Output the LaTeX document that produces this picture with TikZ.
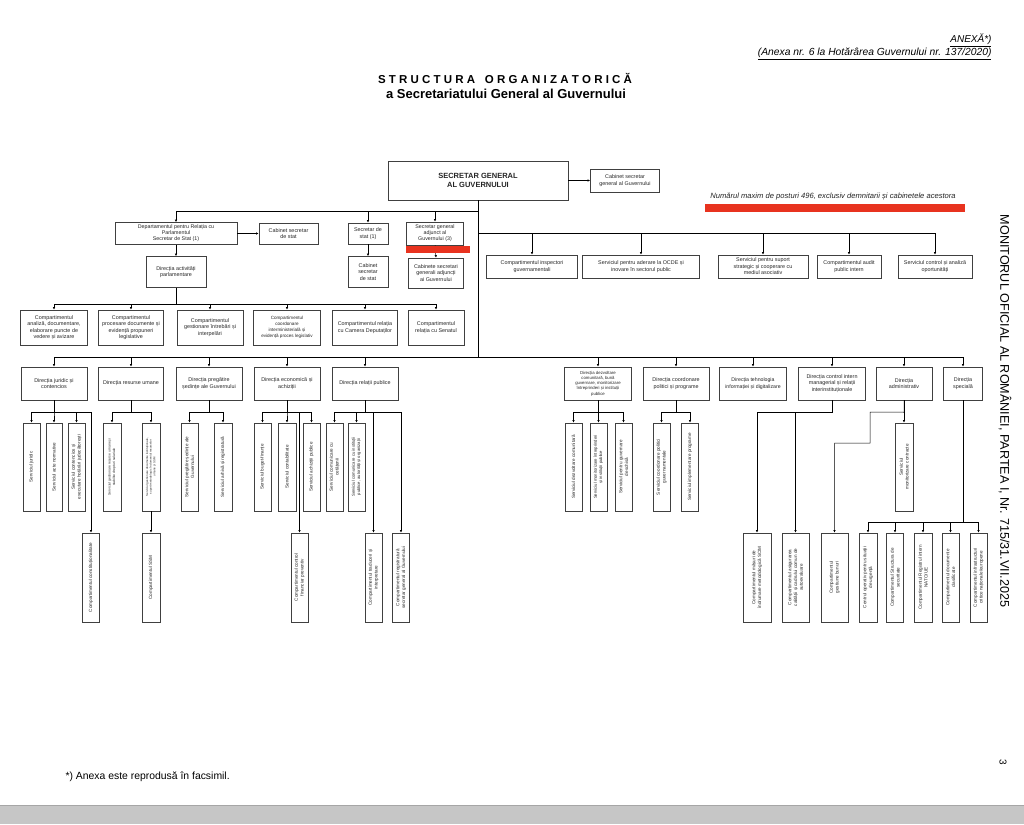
\documentclass[tikz,border=0pt]{standalone}
\usepackage{fontspec}
\setmainfont{Liberation Sans}
\usetikzlibrary{arrows.meta}
\newcommand\fsz[2]{\fontsize{#1}{#2}\selectfont}
\definecolor{redbar}{HTML}{E8331F}
\tikzset{
  box/.style={draw=black!75, line width=0.5pt, align=center, inner sep=0.5pt, font=\fsz{5.4}{6.5}, text=black!85},
  vb/.style={box, rotate=90, font=\fsz{4.6}{5.8}},
  wh/.style 2 args={minimum width=#1pt, minimum height=#2pt},
  arr/.style={-{Latex[length=2.6pt,width=2.4pt]}, line width=0.5pt},
  ln/.style={line width=0.5pt},
}
\begin{document}
\begin{tikzpicture}[x=1pt,y=-1pt]
\useasboundingbox (0,0) rectangle (1024,824);
\fill[white] (0,0) rectangle (1024,824);
\fill[gray!45] (0,805) rectangle (1024,824);
\draw[gray!70, line width=1pt] (0,805) -- (1024,805);

% header
\node[anchor=east, font=\fsz{10}{11}\itshape] (anx) at (995,40) {\underline{ANEXĂ*)}};
\node[anchor=east, font=\fsz{10.3}{11}\itshape] (anx2) at (995,54) {\underline{(Anexa nr. 6 la Hotărârea Guvernului nr. 137/2020)}};
\node[font=\fsz{11.5}{13}\bfseries] (t1) at (505,78) {\makebox[254pt][s]{S\hfill T\hfill R\hfill U\hfill C\hfill T\hfill U\hfill R\hfill A\hfill\hfill\hfill O\hfill R\hfill G\hfill A\hfill N\hfill I\hfill Z\hfill A\hfill T\hfill O\hfill R\hfill I\hfill C\hfill Ă}};
\node[font=\fsz{13}{15}\bfseries] (t2) at (506,94) {a Secretariatului General al Guvernului};
\node[rotate=-90, font=\fsz{12.6}{14}] (mo) at (1005,411) {MONITORUL OFICIAL AL ROMÂNIEI, PARTEA I, Nr. 715/31.VII.2025};
\node[rotate=-90, font=\fsz{10}{11}] (pg) at (1003,762) {3};
\node[anchor=west, font=\fsz{10.4}{12}] (fn) at (62,777) {*) Anexa este reprodusă în facsimil.};

% top
\node[box, wh={180}{39}, font=\fsz{7.5}{9}\bfseries] (sg) at (478,180.5) {SECRETAR GENERAL\\AL GUVERNULUI};
\node[box, wh={69}{23}] (csg) at (625,180.5) {Cabinet secretar\\general al Guvernului};
\draw[arr] (sg.east) -- (csg.west);
\node[font=\fsz{7.6}{9}\itshape, text=black!85] (note) at (833,197) {Numărul maxim de posturi 496, exclusiv demnitarii și cabinetele acestora};
\fill[redbar] (705,204) rectangle (965,212);

\coordinate (hl) at (478,211);
\coordinate (hr) at (478,233);
\coordinate (hub) at (478,357);
\draw[ln] (sg.south) -- (hub);

% left branch
\node[box, wh={122}{22}, font=\fsz{5.3}{5.9}] (dept) at (176,233.5) {Departamentul pentru Relația cu\\Parlamentul\\Secretar de Stat (1)};
\node[box, wh={59}{21}] (css1) at (288.5,233.5) {Cabinet secretar\\de stat};
\node[box, wh={40}{21}] (ss) at (368,233.5) {Secretar de\\stat (1)};
\node[box, wh={57}{23}, font=\fsz{5.3}{6.1}] (sga) at (435,233.5) {Secretar general\\adjunct al\\Guvernului (3)};
\node[box, wh={40}{31}] (css2) at (368,272) {Cabinet\\secretar\\de stat};
\node[box, wh={55}{30}] (csga) at (436,273) {Cabinete secretari\\generali adjuncți\\ai Guvernului};
\node[box, wh={60}{31}] (dap) at (176,272) {Direcția activități\\parlamentare};
\draw[arr] (hl) -| (dept.north);
\draw[arr] (hl) -| (ss.north);
\draw[arr] (hl) -| (sga.north);
\draw[arr] (dept.east) -- (css1.west);
\draw[arr] (ss.south) -- (css2.north);
\draw[arr] (sga.south) -- (csga.north);
\draw[arr] (dept.south) -- (dap.north);
\fill[redbar] (406,246) rectangle (470,253);

% compartments
\coordinate (cb) at (176,304);
\draw[ln] (dap.south) -- (cb);
\node[box, wh={67}{35}] (c1) at (54,327.5) {Compartimentul\\analiză, documentare,\\elaborare puncte de\\vedere și avizare};
\node[box, wh={65}{35}] (c2) at (131,327.5) {Compartimentul\\procesare documente și\\evidență propuneri\\legislative};
\node[box, wh={66}{35}] (c3) at (210,327.5) {Compartimentul\\gestionare întrebări și\\interpelări};
\node[box, wh={67}{35}, font=\fsz{4.6}{5.8}] (c4) at (287,327.5) {Compartimentul\\coordonare\\interministerială și\\evidență proces legislativ};
\node[box, wh={65}{35}] (c5) at (365,327.5) {Compartimentul relația\\cu Camera Deputaților};
\node[box, wh={56}{35}] (c6) at (436,327.5) {Compartimentul\\relația cu Senatul};
\foreach \n in {c1,c2,c3,c4,c5,c6} \draw[arr] (cb) -| (\n.north);

% right branch
\node[box, wh={91}{23}] (r1) at (532,266.5) {Compartimentul inspectori\\guvernamentali};
\node[box, wh={117}{23}] (r2) at (641,266.5) {Serviciul pentru aderare la OCDE și\\inovare în sectorul public};
\node[box, wh={90}{23}] (r3) at (763,266.5) {Serviciul pentru suport\\strategic și cooperare cu\\mediul asociativ};
\node[box, wh={64}{23}] (r4) at (849,266.5) {Compartimentul audit\\public intern};
\node[box, wh={74}{23}] (r5) at (935,266.5) {Serviciul control și analiză\\oportunități};
\foreach \n in {r1,r2,r3,r4,r5} \draw[arr] (hr) -| (\n.north);

% directions
\node[box, wh={66}{33}] (dj) at (54,383.5) {Direcția juridic și\\contencios};
\node[box, wh={65}{33}] (dru) at (131,383.5) {Direcția resurse umane};
\node[box, wh={66}{33}] (dps) at (209,383.5) {Direcția pregătire\\ședințe ale Guvernului};
\node[box, wh={66}{33}] (de) at (287,383.5) {Direcția economică și\\achiziții};
\node[box, wh={66}{33}] (drp) at (365,383.5) {Direcția relații publice};
\node[box, wh={67}{33}, font=\fsz{4.3}{5.3}] (ddc) at (598,383.5) {Direcția dezvoltare\\comunitară, bună\\guvernare, monitorizare\\întreprinderi și instituții\\publice};
\node[box, wh={66}{33}] (dcp) at (676,383.5) {Direcția coordonare\\politici și programe};
\node[box, wh={67}{33}, font=\fsz{5.2}{6.4}] (dti) at (753,383.5) {Direcția tehnologia\\informației și digitalizare};
\node[box, wh={67}{33}] (dci) at (832,383.5) {Direcția control intern\\managerial și relații\\interinstituționale};
\node[box, wh={56}{33}] (dadm) at (904,383.5) {Direcția\\administrativ};
\node[box, wh={39}{33}] (dsp) at (963,383.5) {Direcția\\specială};
\foreach \n in {dj,dru,dps,de,drp,ddc,dcp,dti,dci,dadm,dsp} \draw[arr] (hub) -| (\n.north);

% vertical boxes - juridic
\node[vb, wh={88}{17}] (sj) at (31.5,467) {Serviciul juridic};
\node[vb, wh={88}{16}] (san) at (54,467) {Serviciul acte normative};
\node[vb, wh={88}{17}] (sc) at (76.5,467) {Serviciul contencios și\\executare hotărâri judecătorești};
\node[vb, wh={89}{17}] (scon) at (91,577.5) {Compartimentul constituționalitate};
\foreach \n in {sj,san,sc,scon} \draw[arr] (dj.south) -- ++(0,12) -| (\n.east);

% resurse umane
\node[vb, wh={88}{18}, font=\fsz{3.4}{4.3}] (sgru) at (112,467) {Serviciul gestionare resurse umane și\\stabilire drepturi salariale};
\node[vb, wh={88}{18}, font=\fsz{2.9}{3.6}] (sgd) at (151,467) {Serviciul gestionare documente instituționale,\\suport metodologic în domeniul resurselor\\umane și SSM};
\node[vb, wh={89}{18}] (ssm) at (151,577.5) {Compartimentul SSM};
\foreach \n in {sgru,sgd} \draw[arr] (dru.south) -- ++(0,12) -| (\n.east);
\draw[arr] (sgd.west) -- (ssm.east);

% pregatire
\node[vb, wh={88}{17}] (spg) at (189.5,467) {Serviciul pregătire ședințe ale\\Guvernului};
\node[vb, wh={88}{18}] (sar) at (223,467) {Serviciul arhivă și registratură};
\foreach \n in {spg,sar} \draw[arr] (dps.south) -- ++(0,12) -| (\n.east);

% economica
\node[vb, wh={88}{17}] (sbf) at (262.5,467) {Serviciul buget-finanțe};
\node[vb, wh={88}{18}] (scont) at (287,467) {Serviciul contabilitate};
\node[vb, wh={88}{17}] (sach) at (311.5,467) {Serviciul achiziții publice};
\node[vb, wh={89}{17}] (ccfp) at (299.5,577.5) {Compartimentul control\\financiar preventiv};
\foreach \n in {sbf,scont,sach,ccfp} \draw[arr] (de.south) -- ++(0,12) -| (\n.east);

% relatii publice
\node[vb, wh={88}{17}] (scc) at (334.5,467) {Serviciul comunicare cu\\cetățenii};
\node[vb, wh={88}{17}, font=\fsz{4.2}{5.3}] (sci) at (356.5,467) {Serviciul comunicare cu instituții\\publice, autorități și organizații};
\node[vb, wh={89}{17}] (ctr) at (373.5,577.5) {Compartimentul traduceri și\\interpretare};
\node[vb, wh={89}{17}] (creg) at (401,577.5) {Compartimentul registratură\\secretar general al Guvernului};
\foreach \n in {scc,sci,ctr,creg} \draw[arr] (drp.south) -- ++(0,12) -| (\n.east);

% dezvoltare comunitara
\node[vb, wh={88}{17}] (sdc) at (573.5,467) {Serviciul dezvoltare comunitară};
\node[vb, wh={88}{17}, font=\fsz{4.2}{5.3}] (smi) at (598.5,467) {Serviciul monitorizare întreprinderi\\și instituții publice};
\node[vb, wh={88}{17}] (sgdes) at (623.5,467) {Serviciul pentru guvernare\\deschisă};
\foreach \n in {sdc,smi,sgdes} \draw[arr] (ddc.south) -- ++(0,12) -| (\n.east);

% coordonare politici
\node[vb, wh={88}{17}] (scpg) at (661.5,467) {Serviciul coordonare politici\\guvernamentale};
\node[vb, wh={88}{17}] (sip) at (690,467) {Serviciul implementare programe};
\foreach \n in {scpg,sip} \draw[arr] (dcp.south) -- ++(0,12) -| (\n.east);

% control intern
\node[vb, wh={89}{28}] (cscim) at (757,577.5) {Compartimentul măsuri de\\îndrumare metodologică SCIM};
\node[vb, wh={89}{27}] (ccal) at (795.5,577.5) {Compartimentul asigurarea\\calității și cadrului comun de\\autoevaluare};
\foreach \n in {cscim,ccal} \draw[arr] (dci.south) -- ++(0,12) -| (\n.east);

% administrativ
\node[vb, wh={88}{18}] (smc) at (904,467) {Serviciul\\monitorizare contracte};
\node[vb, wh={89}{27}] (cgb) at (834.5,577.5) {Compartimentul\\gestiune bunuri};
\coordinate (ab1) at (870,412);
\coordinate (ab2) at (870,443);
\draw[arr] (dadm.south) -- (smc.east);
\draw[arr] (dadm.south) -- ++(0,12) -- (ab1) -- (ab2) -| (cgb.east);

% speciala
\node[vb, wh={89}{18}] (cop) at (868,577.5) {Centrul operativ pentru situații\\de urgență};
\node[vb, wh={89}{17}] (cssec) at (895,577.5) {Compartimentul Structura de\\securitate};
\node[vb, wh={89}{18}] (crin) at (923,577.5) {Compartimentul Registrul intern\\NATO/UE};
\node[vb, wh={89}{17}] (cdc) at (950.5,577.5) {Compartimentul documente\\clasificate};
\node[vb, wh={89}{17}] (cinf) at (978.5,577.5) {Compartimentul infrastructuri\\critice naționale/europene};
\foreach \n in {cop,cssec,crin,cdc,cinf} \draw[arr] (dsp.south) -- ++(0,122) -| (\n.east);
\end{tikzpicture}
\end{document}
